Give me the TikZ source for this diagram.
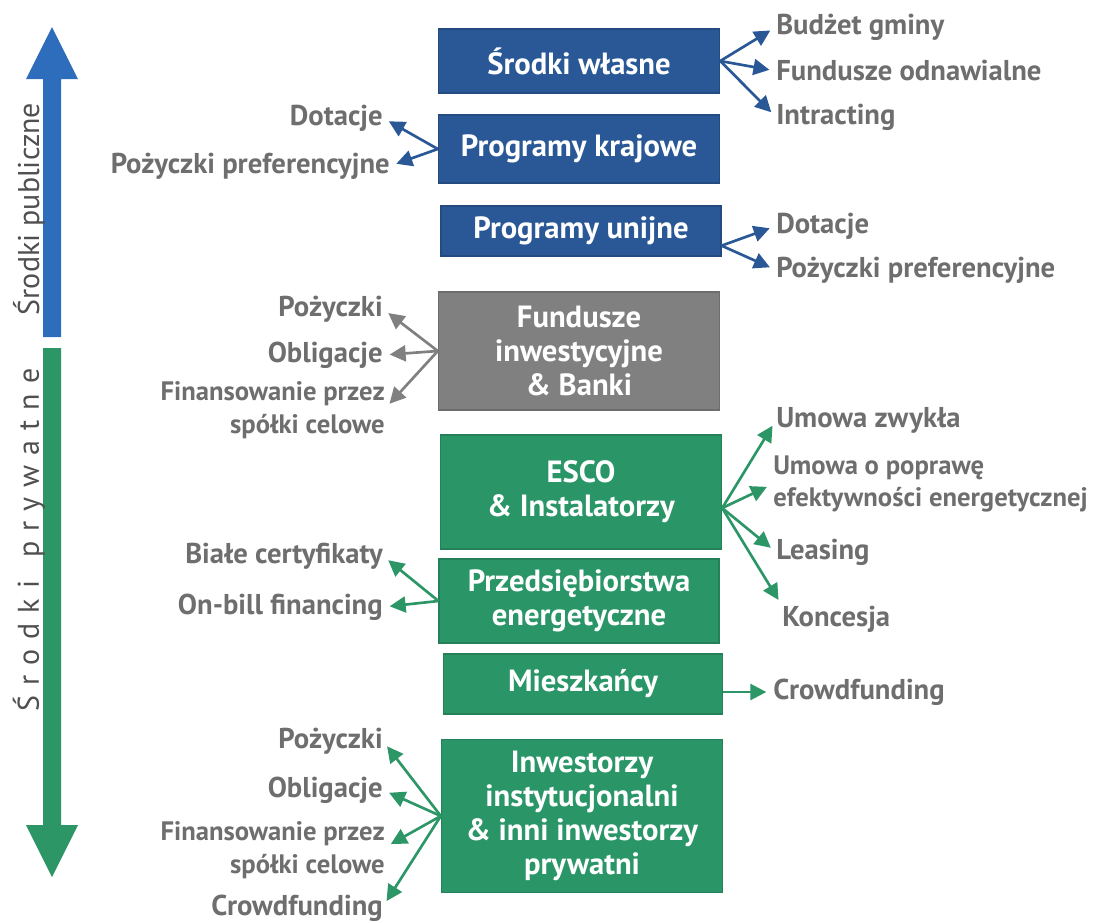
\documentclass[tikz,border=0pt]{standalone}
\usepackage{fontspec}
\setmainfont{PT Sans}
\usetikzlibrary{arrows.meta}

\definecolor{boxblue}{RGB}{42,88,150}
\definecolor{barblue}{RGB}{46,108,188}
\definecolor{boxgreen}{RGB}{42,150,104}
\definecolor{bargreen}{RGB}{44,150,102}
\definecolor{boxgray}{RGB}{128,128,128}
\definecolor{labgray}{RGB}{110,110,110}
\definecolor{sidegray}{RGB}{80,80,80}

\tikzset{
  srcbox/.style={draw=#1!85!black, line width=0.8pt, fill=#1, text=white, align=center, inner sep=0pt,
    font=\fontsize{23}{25.5}\selectfont\bfseries},
  lab/.style={text=labgray, inner sep=0pt, font=\fontsize{21.5}{24}\selectfont\bfseries},
  smalllab/.style={lab, font=\fontsize{20}{24.5}\selectfont\bfseries},
  fan/.style={draw=#1, line width=2pt, -{Triangle[length=12pt,width=12pt]}, shorten >=5pt},
}

\begin{document}
\begin{tikzpicture}[x=0.75pt,y=0.75pt,yscale=-1,xscale=1]
\useasboundingbox (0,0) rectangle (1096,922);

%Shape: Arrow up
\fill[barblue] (43,337) -- (43,79) -- (26,79) -- (52,27) -- (78,79) -- (61,79) -- (61,337) -- cycle;
%Shape: Arrow down
\fill[bargreen] (43,348) -- (43,825) -- (26,825) -- (52,877) -- (78,825) -- (61,825) -- (61,348) -- cycle;

% Text Node
\node[rotate=90, text=sidegray, font=\fontsize{22.5}{25}\selectfont] (publ) at (29,209) {Środki publiczne};
% Text Node
\node[rotate=90, text=sidegray, font=\fontsize{22.5}{25}\selectfont] (pryw) at (29,540) {Ś\,\,r\,\,o\,\,d\,\,k\,\,i\enspace\ p\,\,r\,\,y\,\,w\,\,a\,\,t\,\,n\,\,e};

%Shape: Rectangle
\node[srcbox=boxblue, minimum width=211pt, minimum height=48pt] (wlasne) at (579,61) {Środki własne};
\node[srcbox=boxblue, minimum width=211pt, minimum height=51pt] (krajowe) at (579,149) {Programy krajowe};
\node[srcbox=boxblue, minimum width=210pt, minimum height=37.5pt] (unijne) at (581,231) {Programy unijne};
\node[srcbox=boxgray, minimum width=211pt, minimum height=88.5pt] (fundusze) at (579,351) {Fundusze\\inwestycyjne\\\& Banki};
\node[srcbox=boxgreen, minimum width=211pt, minimum height=85.5pt] (esco) at (581,492) {ESCO\\\& Instalatorzy};
\node[srcbox=boxgreen, minimum width=210pt, minimum height=63pt] (przeds) at (579,601) {Przedsiębiorstwa\\energetyczne};
\node[srcbox=boxgreen, minimum width=209pt, minimum height=45pt] (mieszk) at (583,684) {Mieszkańcy};
\node[srcbox=boxgreen, minimum width=211pt, minimum height=115pt] (inwest) at (582,816) {Inwestorzy\\instytucjonalni\\\& inni inwestorzy\\prywatni};

% Text Node
\node[lab, anchor=west] (budzet) at (776,27) {Budżet gminy};
\node[lab, anchor=west] (fundodn) at (776,71) {Fundusze odnawialne};
\node[lab, anchor=west] (intracting) at (776,117) {Intracting};
\node[lab, anchor=east] (dotK) at (383,118) {Dotacje};
\node[lab, anchor=east] (pozK) at (390,166) {Pożyczki preferencyjne};
\node[lab, anchor=west] (dotU) at (776,226) {Dotacje};
\node[lab, anchor=west] (pozU) at (776,270) {Pożyczki preferencyjne};

% Text Node
\node[lab, anchor=east] (pozF) at (383,309) {Pożyczki};
\node[lab, anchor=east] (oblF) at (383,355) {Obligacje};
\node[smalllab, anchor=east, align=right] (finF) at (385,410) {Finansowanie przez\\spółki celowe};

% Text Node
\node[lab, anchor=west] (umowaz) at (776,420) {Umowa zwykła};
\node[smalllab, anchor=west, align=left] (umowaop) at (773,484) {Umowa o poprawę\\efektywności energetycznej};
\node[lab, anchor=west] (leasing) at (776,552) {Leasing};
\node[lab, anchor=west] (koncesja) at (782,619) {Koncesja};
\node[lab, anchor=east] (biale) at (383,556) {Białe certyfikaty};
\node[lab, anchor=east] (onbill) at (383,607) {On-bill financing};
\node[lab, anchor=west] (crowdR) at (773,692) {Crowdfunding};

% Text Node
\node[lab, anchor=east] (pozI) at (383,741) {Pożyczki};
\node[lab, anchor=east] (oblI) at (383,790) {Obligacje};
\node[smalllab, anchor=east, align=right] (finI) at (385,850) {Finansowanie przez\\spółki celowe};
\node[lab, anchor=east] (crowdL) at (383,908) {Crowdfunding};

%Straight Lines
\draw[fan=boxblue] (wlasne.east) -- (budzet.west);
\draw[fan=boxblue] (wlasne.east) -- (fundodn.west);
\draw[fan=boxblue] (wlasne.east) -- (intracting.west);
\draw[fan=boxblue] (krajowe.west) -- (dotK.east);
\draw[fan=boxblue] (krajowe.west) -- (pozK.east);
\draw[fan=boxblue] ([yshift=11pt]unijne.east) -- (dotU.west);
\draw[fan=boxblue] ([yshift=11pt]unijne.east) -- (pozU.west);

%Straight Lines
\draw[fan=boxgray] (fundusze.west) -- (pozF.east);
\draw[fan=boxgray] (fundusze.west) -- (oblF.east);
\draw[fan=boxgray] (fundusze.west) -- ([yshift=-1pt]finF.east);

%Straight Lines
\draw[fan=bargreen] ([yshift=12pt]esco.east) -- (umowaz.west);
\draw[fan=bargreen] ([yshift=12pt]esco.east) -- (umowaop.west);
\draw[fan=bargreen] ([yshift=12pt]esco.east) -- (leasing.west);
\draw[fan=bargreen] ([yshift=12pt]esco.east) -- ([yshift=-10pt]koncesja.west);
\draw[fan=bargreen] (przeds.west) -- (biale.east);
\draw[fan=bargreen] (przeds.west) -- (onbill.east);
\draw[fan=bargreen] (mieszk.east |- crowdR.west) -- (crowdR.west);
\draw[fan=bargreen] (inwest.west) -- (pozI.east);
\draw[fan=bargreen] (inwest.west) -- (oblI.east);
\draw[fan=bargreen] (inwest.west) -- ([yshift=-2pt]finI.east);
\draw[fan=bargreen] (inwest.west) -- ([yshift=-1pt]crowdL.east);

\end{tikzpicture}
\end{document}
